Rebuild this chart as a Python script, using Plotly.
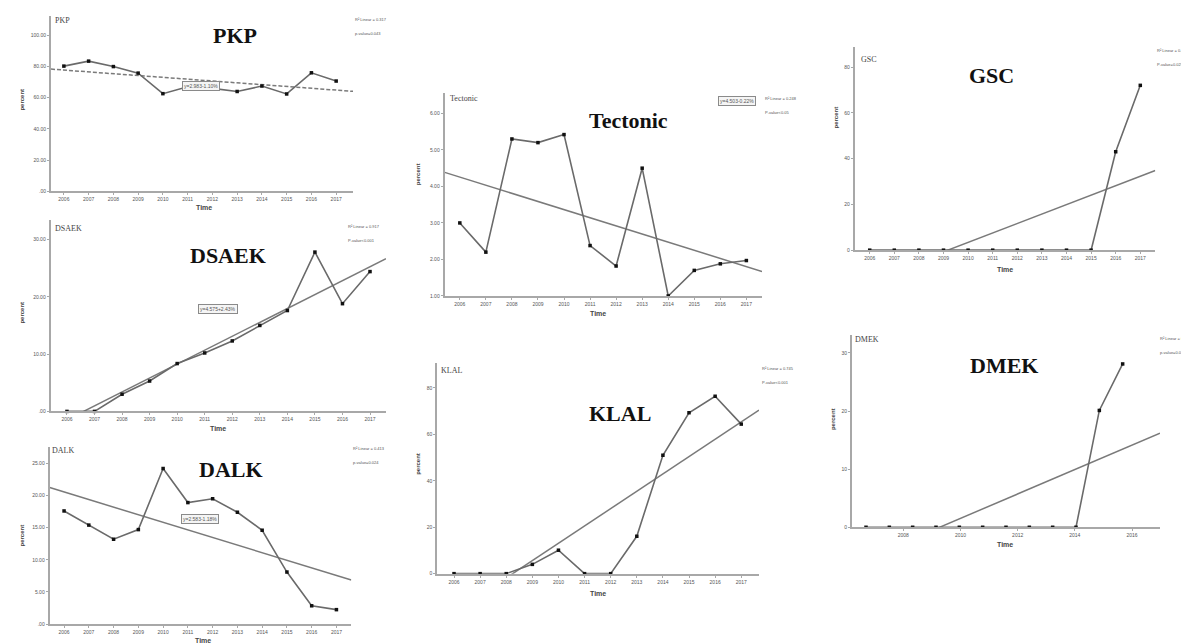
import numpy as np
import plotly.graph_objects as go

# ---------------- data ----------------
years = [2006, 2007, 2008, 2009, 2010, 2011, 2012, 2013, 2014, 2015, 2016, 2017]
pkp = [80.3, 83.5, 80.0, 75.8, 62.6, 67.0, 66.0, 64.0, 67.5, 62.4, 76.0, 70.7]
dsaek = [0.0, 0.0, 3.0, 5.3, 8.35, 10.2, 12.3, 15.0, 17.6, 27.8, 18.8, 24.4]
dalk = [17.6, 15.4, 13.2, 14.7, 24.2, 18.9, 19.5, 17.4, 14.6, 8.1, 2.85, 2.25]
tectonic = [3.0, 2.2, 5.3, 5.2, 5.42, 2.38, 1.82, 4.5, 1.0, 1.7, 1.88, 1.97]
klal = [0, 0, 0, 4.0, 10.1, 0, 0, 16.1, 51.0, 69.3, 76.4, 64.4]
gsc = [0, 0, 0, 0, 0, 0, 0, 0, 0, 0, 43.0, 72.0]
dmek = [0, 0, 0, 0, 0, 0, 0, 0, 0, 0, 20.1, 28.1]

year_labels = [str(y) for y in years]
dmek_xlabels = ["2008", "2010", "2012", "2014", "2016"]

pkp_yvals = [0, 20, 40, 60, 80, 100]
pkp_ylabels = [".00", "20.00", "40.00", "60.00", "80.00", "100.00"]
dsaek_yvals = [0, 10, 20, 30]
dsaek_ylabels = [".00", "10.00", "20.00", "30.00"]
dalk_yvals = [0, 5, 10, 15, 20, 25]
dalk_ylabels = [".00", "5.00", "10.00", "15.00", "20.00", "25.00"]
tect_yvals = [1, 2, 3, 4, 5, 6]
tect_ylabels = ["1.00", "2.00", "3.00", "4.00", "5.00", "6.00"]
klal_yvals = [0, 20, 40, 60, 80]
klal_ylabels = ["0", "20", "40", "60", "80"]
gsc_yvals = [0, 20, 40, 60, 80]
gsc_ylabels = ["0", "20", "40", "60", "80"]
dmek_yvals = [0, 10, 20, 30]
dmek_ylabels = ["0", "10", "20", "30"]

pvalue_texts = {
    "PKP": "p-value=0.043", "DSAEK": "P-value<0.001", "DALK": "p-value=0.024",
    "Tectonic": "P-value<0.05", "KLAL": "P-value<0.001", "GSC": "P-value=0.025",
    "DMEK": "p-value=0.023",
}
box_texts = {
    "PKP": "y=2.983-1.10%", "DSAEK": "y=4.575+2.43%", "DALK": "y=2.583-1.18%",
    "Tectonic": "y=4.503-0.22%",
}

# ---------------- layout helpers ----------------
W, H = 1189, 644
def fx(x):
    return x / W
def fy(y):
    return 1 - y / H

panels = [
    dict(name="PKP", data=pkp, box=(43, 345, 8, 184), xr=(2005.48, 2017.68), yr=(0, 112.5),
         yv=pkp_yvals, yl=pkp_ylabels, dash="4px,2px", title=(227, 28), small=(45, 13),
         percent=(14, 92), time=(196, 200), r2=(345, 12), boxpos=(193, 78)),
    dict(name="DSAEK", data=dsaek, box=(42.7, 378, 213, 405.3), xr=(2005.41, 2017.58), yr=(0, 33.4),
         yv=dsaek_yvals, yl=dsaek_ylabels, dash="solid", title=(220, 249), small=(45, 222),
         percent=(14, 306), time=(210, 422), r2=(338, 220), boxpos=(210, 302)),
    dict(name="DALK", data=dalk, box=(41.7, 343.3, 440.7, 619), xr=(2005.42, 2017.6), yr=(0, 27.6),
         yv=dalk_yvals, yl=dalk_ylabels, dash="solid", title=(223, 464), small=(42, 445),
         percent=(14, 530), time=(195, 635), r2=(343, 443), boxpos=(192, 513)),
    dict(name="Tectonic", data=tectonic, box=(436.7, 754, 85, 289.3), xr=(2005.42, 2017.6), yr=(1, 6.57),
         yv=tect_yvals, yl=tect_ylabels, dash="solid", title=(620, 113), small=(440, 91),
         percent=(410, 167), time=(590, 307), r2=(755, 91), boxpos=(729, 93)),
    dict(name="KLAL", data=klal, box=(429.3, 751, 356.7, 568.3), xr=(2005.36, 2017.68), yr=(0, 90.7),
         yv=klal_yvals, yl=klal_ylabels, dash="solid", title=(612, 407), small=(431, 364),
         percent=(410, 458), time=(590, 588), r2=(752, 362), boxpos=None),
    dict(name="GSC", data=gsc, box=(846.7, 1147.3, 39.3, 243.3), xr=(2005.39, 2017.61), yr=(0, 88.7),
         yv=gsc_yvals, yl=gsc_ylabels, dash="solid", title=(983, 68), small=(851, 52),
         percent=(828, 110), time=(997, 263), r2=(1147, 43), boxpos=None),
    dict(name="DMEK", data=dmek, box=(844, 1152, 329, 521.7), xr=(2005.4, 2018.6), yr=(0, 33),
         yv=dmek_yvals, yl=dmek_ylabels, dash="solid", title=(996, 359), small=(845, 333),
         percent=(825, 413), time=(997, 539), r2=(1150, 332), boxpos=None),
]

fig = go.Figure()
annotations = []
layout = {}

axis_color = "#a8a8a8"
tick_font = dict(family="Liberation Sans, Arial", size=5, color="#555555")

for i, p in enumerate(panels):
    sfx = "" if i == 0 else str(i + 1)
    xa, ya = "x" + sfx, "y" + sfx
    L, R, T, B = p["box"]
    x = np.array(years, dtype=float)
    y = np.array(p["data"], dtype=float)
    slope, icpt = np.polyfit(x, y, 1)
    r2 = np.corrcoef(x, y)[0, 1] ** 2
    tx = np.array(p["xr"])
    ty = icpt + slope * tx

    fig.add_trace(go.Scatter(x=tx, y=ty, mode="lines", xaxis=xa, yaxis=ya,
                             line=dict(color="#7a7a7a", width=1.5, dash=p["dash"]),
                             hoverinfo="skip", showlegend=False))
    fig.add_trace(go.Scatter(x=years, y=p["data"], mode="lines+markers", xaxis=xa, yaxis=ya,
                             line=dict(color="#6a6a6a", width=1.6),
                             marker=dict(color="#111111", size=3.5, symbol="square"),
                             cliponaxis=False, showlegend=False, name=p["name"]))

    if p["name"] == "DMEK":
        xtv = [2007.6, 2010.05, 2012.5, 2014.95, 2017.4]
        xtt = dmek_xlabels
    else:
        xtv = years
        xtt = year_labels

    layout["xaxis" + sfx] = dict(
        domain=[fx(L), fx(R)], anchor=ya, range=list(p["xr"]), tickvals=xtv, ticktext=xtt,
        showline=True, linecolor=axis_color, linewidth=2, ticks="outside", ticklen=2,
        tickcolor=axis_color, tickfont=tick_font, showgrid=False, zeroline=False, fixedrange=True)
    layout["yaxis" + sfx] = dict(
        domain=[fy(B), fy(T)], anchor=xa, range=list(p["yr"]), tickvals=p["yv"], ticktext=p["yl"],
        showline=True, linecolor=axis_color, linewidth=2, ticks="outside", ticklen=2,
        tickcolor=axis_color, tickfont=tick_font, showgrid=False, zeroline=False, fixedrange=True)

    # big title
    annotations.append(dict(x=fx(p["title"][0]), y=fy(p["title"][1]), xref="paper", yref="paper",
                            text="<b>%s</b>" % p["name"], showarrow=False, xanchor="center", yanchor="middle",
                            font=dict(family="Liberation Serif, Times New Roman", size=22, color="#111111")))
    # small panel label
    annotations.append(dict(x=fx(p["small"][0]), y=fy(p["small"][1]), xref="paper", yref="paper",
                            text=p["name"], showarrow=False, xanchor="left", yanchor="middle",
                            font=dict(family="Liberation Serif, Times New Roman", size=8, color="#444444")))
    # axis titles
    annotations.append(dict(x=fx(p["percent"][0]), y=fy(p["percent"][1]), xref="paper", yref="paper",
                            text="<b>percent</b>", showarrow=False, textangle=-90,
                            xanchor="center", yanchor="middle",
                            font=dict(family="Liberation Sans, Arial", size=6, color="#444444")))
    annotations.append(dict(x=fx(p["time"][0]), y=fy(p["time"][1]), xref="paper", yref="paper",
                            text="<b>Time</b>", showarrow=False, xanchor="center", yanchor="middle",
                            font=dict(family="Liberation Sans, Arial", size=7, color="#444444")))
    # R2 / p-value
    annotations.append(dict(x=fx(p["r2"][0]), y=fy(p["r2"][1]), xref="paper", yref="paper",
                            text="R² Linear = %.3f" % r2, showarrow=False, xanchor="left", yanchor="middle",
                            font=dict(family="Liberation Sans, Arial", size=4, color="#555555")))
    annotations.append(dict(x=fx(p["r2"][0]), y=fy(p["r2"][1] + 14), xref="paper", yref="paper",
                            text=pvalue_texts[p["name"]], showarrow=False, xanchor="left", yanchor="middle",
                            font=dict(family="Liberation Sans, Arial", size=4, color="#555555")))
    if p["boxpos"] is not None:
        annotations.append(dict(x=fx(p["boxpos"][0]), y=fy(p["boxpos"][1]), xref="paper", yref="paper",
                                text=box_texts[p["name"]], showarrow=False, xanchor="center", yanchor="middle",
                                bordercolor="#8a8a8a", borderwidth=1, borderpad=1, bgcolor="#f5f5f5",
                                font=dict(family="Liberation Sans, Arial", size=5, color="#555555")))

fig.update_layout(
    width=W, height=H, margin=dict(l=0, r=0, t=0, b=0),
    paper_bgcolor="white", plot_bgcolor="white", showlegend=False,
    annotations=annotations, **layout)

fig.write_html("out.html", config={"displayModeBar": False})
